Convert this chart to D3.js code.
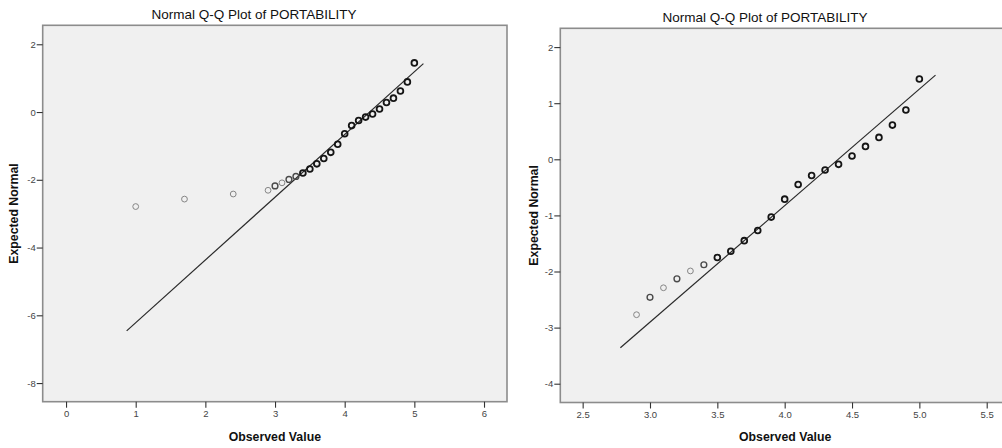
<!DOCTYPE html>
<html><head><meta charset="utf-8">
<script src="https://cdn.jsdelivr.net/npm/d3@7"></script>
<style>
html,body{margin:0;padding:0;background:#fff;}
svg{display:block;}
text{font-family:"Liberation Sans",Arial,sans-serif;}
</style></head>
<body>
<svg id="chart" width="1002" height="448"></svg>
<script>
// ---------- data ----------
const chartTitle = "Normal Q-Q Plot of PORTABILITY";
const xAxisTitle = "Observed Value";
const yAxisTitle = "Expected Normal";

// left panel
const leftObserved = [1.0, 1.7, 2.4, 2.9, 3.0, 3.1, 3.2, 3.3, 3.4, 3.5, 3.6, 3.7, 3.8, 3.9, 4.0, 4.1, 4.2, 4.3, 4.4, 4.5, 4.6, 4.7, 4.8, 4.9, 5.0];
const leftExpected = [-2.79, -2.57, -2.42, -2.31, -2.18, -2.09, -1.99, -1.90, -1.80, -1.68, -1.53, -1.37, -1.19, -0.95, -0.64, -0.40, -0.25, -0.15, -0.06, 0.09, 0.28, 0.41, 0.62, 0.89, 1.45];
const leftFreq     = [1, 1, 1, 1, 2, 1, 2, 2, 3, 3, 3, 3, 3, 3, 3, 3, 3, 3, 3, 3, 3, 3, 3, 3, 3];
const leftLineX = [0.87, 5.13];
const leftLineY = [-6.46, 1.43];
const leftXTicks = [0, 1, 2, 3, 4, 5, 6];
const leftYTicks = [2, 0, -2, -4, -6, -8];

// right panel
const rightObserved = [2.9, 3.0, 3.1, 3.2, 3.3, 3.4, 3.5, 3.6, 3.7, 3.8, 3.9, 4.0, 4.1, 4.2, 4.3, 4.4, 4.5, 4.6, 4.7, 4.8, 4.9, 5.0];
const rightExpected = [-2.77, -2.46, -2.29, -2.13, -1.99, -1.88, -1.75, -1.64, -1.45, -1.27, -1.03, -0.71, -0.45, -0.29, -0.19, -0.09, 0.06, 0.23, 0.39, 0.61, 0.88, 1.43];
const rightFreq     = [1, 2, 1, 2, 1, 2, 3, 3, 3, 3, 3, 3, 3, 3, 3, 3, 3, 3, 3, 3, 3, 3];
const rightLineX = [2.78, 5.12];
const rightLineY = [-3.36, 1.50];
const rightXTicks = [2.5, 3.0, 3.5, 4.0, 4.5, 5.0, 5.5];
const rightYTicks = [2, 1, 0, -1, -2, -3, -4];

// ---------- drawing ----------
const svg = d3.select("#chart");

const strokeColor = d3.scaleOrdinal().domain([1, 2, 3]).range(["#858585", "#4a4a4a", "#151515"]);
const strokeWidth = d3.scaleOrdinal().domain([1, 2, 3]).range([1.0, 1.4, 1.8]);
const plainInt = d => String(d);          // hyphen-minus as in the source
const oneDec = d => d.toFixed(1);

function panel(cfg) {
  const x = d3.scaleLinear().domain(cfg.xDomain).range([cfg.left, cfg.right]);
  const y = d3.scaleLinear().domain(cfg.yDomain).range([cfg.bottom, cfg.top]);
  const g = svg.append("g");

  // plot background
  g.append("rect")
    .attr("x", cfg.left).attr("y", cfg.top)
    .attr("width", cfg.right - cfg.left).attr("height", cfg.bottom - cfg.top)
    .attr("fill", "#f0f0f0").attr("stroke", "#8c8c8c").attr("stroke-width", 1.6);

  // axes
  const xAxis = d3.axisBottom(x).tickValues(cfg.xTicks).tickFormat(cfg.xFmt).tickSizeInner(6).tickSizeOuter(0).tickPadding(3);
  const yAxis = d3.axisLeft(y).tickValues(cfg.yTicks).tickFormat(plainInt).tickSizeInner(6).tickSizeOuter(0).tickPadding(1);
  const gx = g.append("g").attr("transform", `translate(0,${cfg.bottom})`).call(xAxis);
  const gy = g.append("g").attr("transform", `translate(${cfg.left},0)`).call(yAxis);
  [gx, gy].forEach(a => {
    a.select(".domain").remove();
    a.selectAll(".tick line").attr("stroke", "#333").attr("stroke-width", 1.1);
    a.selectAll(".tick text").attr("fill", "#444").attr("font-size", 9.5)
      .attr("font-family", '"Liberation Sans", Arial, sans-serif');
  });

  // reference line
  const line = d3.line().x(d => x(d[0])).y(d => y(d[1]));
  g.append("path")
    .datum(d3.zip(cfg.lineX, cfg.lineY))
    .attr("d", line).attr("fill", "none").attr("stroke", "#2a2a2a").attr("stroke-width", 1.2);

  // points
  const pts = cfg.obs.map((v, i) => ({ x: v, y: cfg.exp[i], f: cfg.freq[i] }));
  g.append("g").selectAll("circle").data(pts).join("circle")
    .attr("cx", d => x(d.x)).attr("cy", d => y(d.y)).attr("r", 2.9)
    .attr("fill", "none")
    .attr("stroke", d => strokeColor(d.f))
    .attr("stroke-width", d => strokeWidth(d.f));

  // titles
  svg.append("text").attr("x", cfg.titleX).attr("y", cfg.titleY)
    .attr("text-anchor", "middle").attr("font-size", 13.5).attr("fill", "#111").text(chartTitle);
  svg.append("text").attr("x", (cfg.left + cfg.right) / 2).attr("y", 440.5)
    .attr("text-anchor", "middle").attr("font-size", 12.3).attr("font-weight", "bold").attr("fill", "#111").text(xAxisTitle);
  svg.append("text").attr("transform", `translate(${cfg.yTitleX},${(cfg.top + cfg.bottom) / 2}) rotate(-90)`)
    .attr("text-anchor", "middle").attr("font-size", 12.3).attr("font-weight", "bold").attr("fill", "#111").text(yAxisTitle);
}

panel({
  left: 42.7, right: 507, top: 25.3, bottom: 401.7,
  xDomain: [-0.335, 6.33], yDomain: [-8.55, 2.56],
  xTicks: leftXTicks, yTicks: leftYTicks, xFmt: plainInt,
  obs: leftObserved, exp: leftExpected, freq: leftFreq,
  lineX: leftLineX, lineY: leftLineY,
  titleX: 254, titleY: 19, yTitleX: 18
});

panel({
  left: 560.3, right: 1010, top: 28.3, bottom: 402.5,
  xDomain: [2.334, 5.673], yDomain: [-4.335, 2.335],
  xTicks: rightXTicks, yTicks: rightYTicks, xFmt: oneDec,
  obs: rightObserved, exp: rightExpected, freq: rightFreq,
  lineX: rightLineX, lineY: rightLineY,
  titleX: 765, titleY: 21.5, yTitleX: 538
});
</script>
</body></html>
